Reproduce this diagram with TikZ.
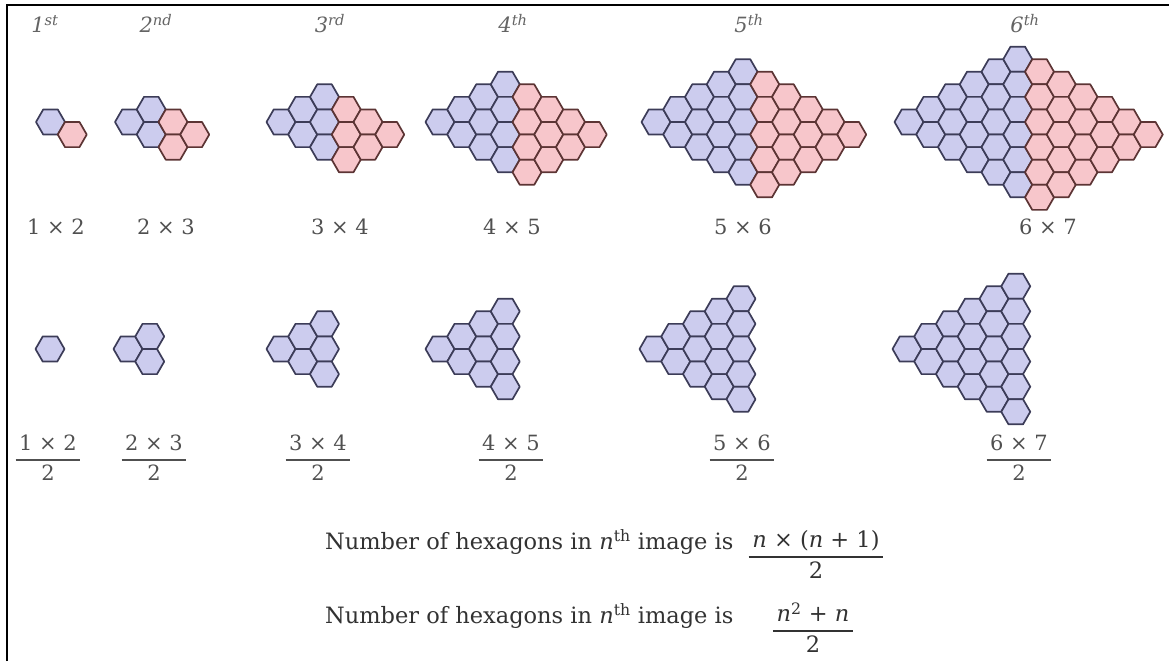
\documentclass[tikz,border=0pt]{standalone}
\usepackage{fontspec}
\setmainfont{DejaVu Serif}
\usepackage{amsmath}
\usetikzlibrary{positioning}

\definecolor{cLav}{RGB}{204,204,238}
\definecolor{cPink}{RGB}{247,198,203}
\definecolor{cLavEdge}{RGB}{60,60,88}
\definecolor{cPinkEdge}{RGB}{92,52,52}
\definecolor{cOrd}{RGB}{100,100,100}
\definecolor{cNum}{RGB}{80,80,80}
\definecolor{cText}{RGB}{50,50,50}

\tikzset{
  bluehex/.style={fill=cLav,draw=cLavEdge,line width=1.7pt,line join=round},
  redhex/.style={fill=cPink,draw=cPinkEdge,line width=1.7pt,line join=round},
  frameline/.style={line width=2.5pt,black},
  ordlabel/.style={font=\fontsize{21}{25}\selectfont\itshape,text=cOrd,
                   anchor=base,inner sep=0pt},
  prodlabel/.style={font=\fontsize{21}{25}\selectfont,text=cNum,
                    anchor=base,inner sep=0pt},
  fraclabel/.style={font=\fontsize{21}{25}\selectfont,text=cNum,
                    anchor=base,inner sep=0pt},
  sumtext/.style={font=\fontsize{22.5}{27}\selectfont,text=cText,
                  anchor=base west,inner sep=0pt},
  sumfrac/.style={font=\fontsize{22.5}{27}\selectfont,text=cText,
                  anchor=base,inner sep=0pt}
}

% one flat-topped hexagon: style, centre x, centre y
\newcommand{\hexcell}[3]{%
  \draw[#1] (#2,#3) ++(-14.5,0) -- ++(7.25,-12.56) -- ++(14.5,0)
    -- ++(7.25,12.56) -- ++(-7.25,12.56) -- ++(-14.5,0) -- cycle;}
\newcommand{\hexfrac}[2]{$\genfrac{}{}{1.5pt}{0}{\text{\,#1\,}}{\text{#2}}$}

\begin{document}
\begin{tikzpicture}[x=1pt,y=-1pt]
  \useasboundingbox (0,0) rectangle (1169,661);
  \draw[frameline] (7,661) -- (7,5) -- (1169,5);

  % top row: n x (n+1) hexagons
  \foreach \n/\X in {1/50.5,2/129.5,3/281,4/440,5/656,6/909} {
    \foreach \c in {1,...,\n} {
      \foreach \j in {1,...,\c} {
        \pgfmathsetmacro\hx{\X+21.75*(\c-1)}
        \pgfmathsetmacro\hy{122+25.11*(\j-1-(\c-1)/2)}
        \hexcell{bluehex}{\hx}{\hy}
      }
    }
    \foreach \k in {1,...,\n} {
      \pgfmathtruncatemacro\cnt{\n-\k+1}
      \foreach \j in {1,...,\cnt} {
        \pgfmathsetmacro\hx{\X+21.75*(\n+\k-1)}
        \pgfmathsetmacro\hy{122-25.11*(\n-1-\k)/2+25.11*(\j-1)}
        \hexcell{redhex}{\hx}{\hy}
      }
    }
  }

  % bottom row: half of them
  \foreach \n/\X in {1/50,2/128,3/281,4/440,5/654,6/907} {
    \foreach \c in {1,...,\n} {
      \foreach \j in {1,...,\c} {
        \pgfmathsetmacro\hx{\X+21.75*(\c-1)}
        \pgfmathsetmacro\hy{349+25.11*(\j-1-(\c-1)/2)}
        \hexcell{bluehex}{\hx}{\hy}
      }
    }
  }

  \foreach \i/\x/\sfx in {1/45/st,2/156/nd,3/330/rd,4/513/th,5/749/th,6/1025/th}
    \node[ordlabel] (ord\i) at (\x,33) {\i\textsuperscript{\sfx}};

  \foreach \i/\x/\q in {1/56/48,2/166/154,3/340/318,4/512/511,5/743/742,6/1048/1019} {
    \pgfmathtruncatemacro\nxt{\i+1}
    \node[prodlabel] (prod\i) at (\x,234) {\i{} × \nxt};
    \node[fraclabel] (half\i) at (\q,465) {\hexfrac{\i{} × \nxt}{2}};
  }

  \node[sumtext] (line1) at (325,549)
      {Number of hexagons in \textit{n}\textsuperscript{th} image is};
  \node[sumfrac] (frac1) at (816,562)
      {\hexfrac{\textit{n} × (\textit{n} + 1)}{2}};
  \node[sumtext] (line2) at (325,623)
      {Number of hexagons in \textit{n}\textsuperscript{th} image is};
  \node[sumfrac] (frac2) at (813,636)
      {\hexfrac{\textit{n}\textsuperscript{2} + \textit{n}}{2}};
\end{tikzpicture}
\end{document}
